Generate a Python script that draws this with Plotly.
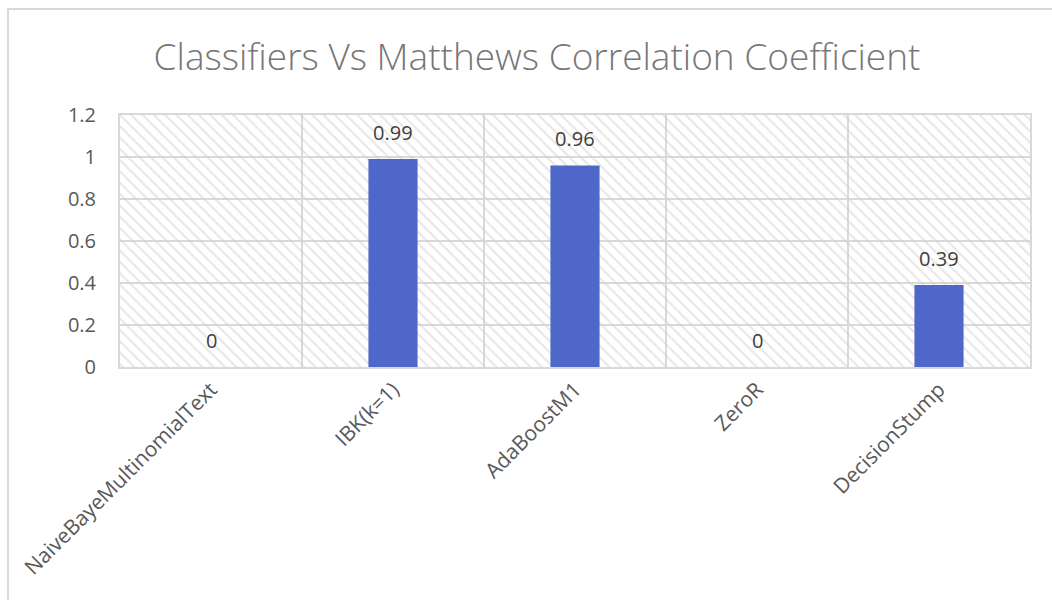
import plotly.graph_objects as go

categories = ["NaiveBayeMultinomialText", "IBK(k=1)", "AdaBoostM1", "ZeroR", "DecisionStump"]
mcc_values = [0, 0.99, 0.96, 0, 0.39]
label_texts = ["0", "0.99", "0.96", "0", "0.39"]
y_tick_values = [0, 0.2, 0.4, 0.6, 0.8, 1.0, 1.2]
y_tick_labels = ["0", "0.2", "0.4", "0.6", "0.8", "1", "1.2"]
y_max = 1.2

L, R, T, B = 120, 22, 115, 233
W, H = 1052, 600
pw, ph = W - L - R, H - T - B

fig = go.Figure()

# hatched plot-area background
fig.add_trace(go.Bar(
    x=categories, y=[y_max] * len(categories), width=1.0,
    marker=dict(color="rgba(0,0,0,0)", line=dict(width=0),
                pattern=dict(shape="\\", fgcolor="#cfcfcf", bgcolor="rgba(0,0,0,0)",
                             size=8, solidity=0.27)),
    hoverinfo="skip", showlegend=False,
))

fig.add_trace(go.Bar(
    x=categories, y=mcc_values, width=0.27,
    marker=dict(color="#4F67C9", line=dict(width=0)),
    showlegend=False,
))

for c, v, t in zip(categories, mcc_values, label_texts):
    fig.add_annotation(x=c, y=v, text=t, showarrow=False, yshift=27,
                       font=dict(family="Open Sans", size=20, color="#404040"))

# outer chart frame
fig.add_shape(type="rect", xref="paper", yref="paper",
              x0=(8 - L) / pw, x1=(W + 10 - L) / pw,
              y0=(H - B - (H + 10)) / ph, y1=(H - B - 9) / ph,
              line=dict(color="#d9d9d9", width=2), fillcolor="rgba(0,0,0,0)", layer="below")

fig.update_layout(
    width=W, height=H,
    margin=dict(l=L, r=R, t=T, b=B),
    paper_bgcolor="white", plot_bgcolor="white",
    barmode="overlay",
    title=dict(text="Classifiers Vs Matthews Correlation Coefficient",
               x=(537) / W, xanchor="center", y=1 - 57 / H, yanchor="middle",
               font=dict(family="Open Sans", size=37, color="#767676", weight=300)),
    xaxis=dict(type="category", tickson="boundaries", showgrid=True, gridcolor="#d9d9d9",
               gridwidth=2, showline=True, linecolor="#d9d9d9", linewidth=2, mirror=True,
               tickangle=-45, ticks="", tickfont=dict(family="Open Sans", size=21, color="#595959"),
               range=[-0.5, len(categories) - 0.5], fixedrange=True),
    yaxis=dict(range=[0, y_max], tickvals=y_tick_values, ticktext=y_tick_labels,
               showgrid=True, gridcolor="#d9d9d9", gridwidth=2, zeroline=False,
               showline=True, linecolor="#d9d9d9", linewidth=2, mirror=True,
               ticks="", ticklabelstandoff=18,
               tickfont=dict(family="Open Sans", size=20, color="#595959")),
)

fig.write_html("out.html")
